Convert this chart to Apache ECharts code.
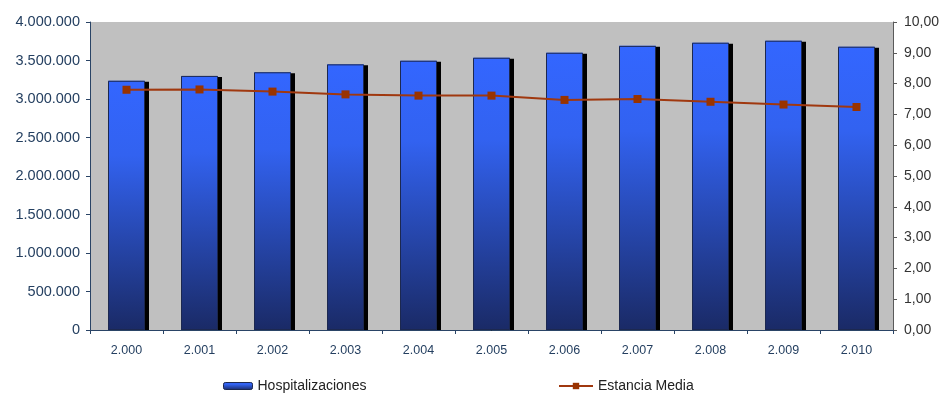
<!DOCTYPE html>
<html>
<head>
<meta charset="utf-8">
<script src="https://cdn.jsdelivr.net/npm/echarts@6/dist/echarts.min.js"></script>
<style>
  html, body { margin: 0; padding: 0; background: #fff; }
  #chart { width: 946px; height: 394px; }
</style>
</head>
<body>
<div id="chart"></div>
<script>
// Years on the category axis
const years = ['2.000', '2.001', '2.002', '2.003', '2.004', '2.005', '2.006', '2.007', '2.008', '2.009', '2.010'];
// Hospital admissions per year
const hospitalizaciones = [3237000, 3300000, 3347000, 3450000, 3497000, 3536000, 3601000, 3690000, 3731000, 3757000, 3679000];
// Average length of stay (days)
const estanciaMedia = [7.80, 7.81, 7.74, 7.65, 7.61, 7.61, 7.47, 7.50, 7.41, 7.32, 7.24];

const fmtThousands = v => String(Math.round(v)).replace(/\B(?=(\d{3})+(?!\d))/g, '.');
const fmtDecimal = v => v.toFixed(2).replace('.', ',');

const barGradient = new echarts.graphic.LinearGradient(0, 0, 0, 1, [
  { offset: 0, color: '#3366ff' },
  { offset: 0.3, color: '#3262f0' },
  { offset: 1, color: '#1a2a66' }
]);

const chart = echarts.init(document.getElementById('chart'));
chart.setOption({
  animation: false,
  textStyle: { fontFamily: 'Liberation Sans, Arial, sans-serif' },
  grid: {
    left: 90, right: 53, top: 22, bottom: 64,
    show: true, backgroundColor: '#c0c0c0', borderWidth: 0
  },
  legend: [
    {
      data: ['Hospitalizaciones'],
      left: 223, top: 379, padding: 0,
      itemWidth: 29, itemHeight: 7,
      itemStyle: { borderColor: '#1c2850', borderWidth: 1 },
      textStyle: { color: '#222', fontSize: 14 }
    },
    {
      data: ['Estancia Media'],
      left: 558, top: 379, padding: 0,
      itemWidth: 34, itemHeight: 8,
      textStyle: { color: '#222', fontSize: 14 }
    }
  ],
  xAxis: {
    type: 'category',
    data: years,
    z: 10,
    axisLine: { lineStyle: { color: '#2a4466', width: 1 } },
    axisTick: { show: true, length: 4, alignWithLabel: false, lineStyle: { color: '#2a4466' } },
    axisLabel: { color: '#243f60', fontSize: 12.5, margin: 14 }
  },
  yAxis: [
    {
      type: 'value',
      min: 0, max: 4000000, interval: 500000,
      position: 'left',
      axisLine: { show: true, lineStyle: { color: '#2a4466', width: 1 } },
      axisTick: { show: true, length: 4, lineStyle: { color: '#2a4466' } },
      axisLabel: { color: '#243f60', fontSize: 14.5, margin: 10, formatter: fmtThousands },
      splitLine: { show: false }
    },
    {
      type: 'value',
      min: 0, max: 10, interval: 1,
      position: 'right',
      axisLine: { show: true, lineStyle: { color: '#5a5a5a', width: 1 } },
      axisTick: { show: true, length: 4, lineStyle: { color: '#5a5a5a' } },
      axisLabel: { color: '#333', fontSize: 14, margin: 11, formatter: fmtDecimal },
      splitLine: { show: false }
    }
  ],
  series: [
    {
      // filled bars with a hard black drop shadow
      name: 'Hospitalizaciones',
      type: 'bar',
      yAxisIndex: 0,
      data: hospitalizaciones,
      barWidth: 37,
      z: 2,
      itemStyle: {
        color: barGradient,
        borderWidth: 0,
        shadowColor: '#000',
        shadowBlur: 0,
        shadowOffsetX: 4,
        shadowOffsetY: 1
      }
    },
    {
      // thin dark outline over the same bars
      name: 'Hospitalizaciones',
      type: 'bar',
      yAxisIndex: 0,
      data: hospitalizaciones,
      barWidth: 37,
      barGap: '-100%',
      z: 3,
      silent: true,
      itemStyle: { color: 'transparent', borderColor: '#1c2850', borderWidth: 1 }
    },
    {
      name: 'Estancia Media',
      type: 'line',
      yAxisIndex: 1,
      data: estanciaMedia,
      symbol: 'rect',
      symbolSize: 8,
      z: 4,
      lineStyle: { color: '#a0380f', width: 2 },
      itemStyle: { color: '#993300' }
    }
  ]
});
</script>
</body>
</html>
